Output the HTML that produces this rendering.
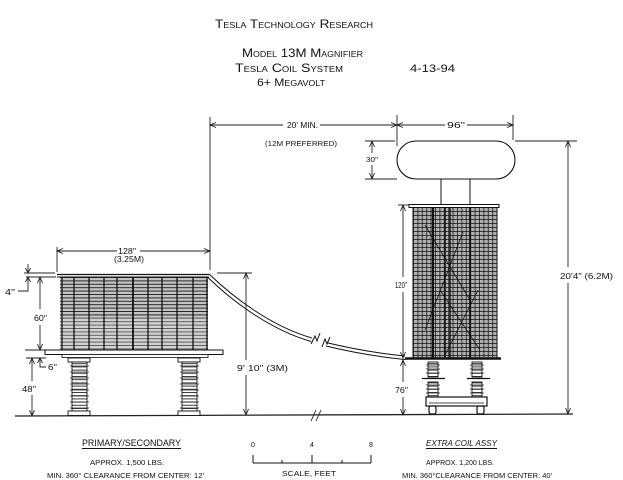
<!DOCTYPE html>
<html><head><meta charset="utf-8">
<style>
html,body{margin:0;padding:0;background:#fff;}
svg{display:block;}
text{font-family:"Liberation Sans",sans-serif;fill:#111;}
</style></head>
<body>
<svg width="623" height="480" viewBox="0 0 623 480" xmlns="http://www.w3.org/2000/svg">
<defs>
<pattern id="hl" x="0" y="277" width="6" height="3.4" patternUnits="userSpaceOnUse">
<rect width="6" height="3.4" fill="#c4c4c4"/>
<line x1="0" y1="0.5" x2="6" y2="0.5" stroke="#1a1a1a" stroke-width="0.9"/>
</pattern>
<pattern id="grid" x="413" y="207" width="4.4" height="4" patternUnits="userSpaceOnUse">
<rect width="4.4" height="4" fill="#b0b0b0"/>
<line x1="0" y1="0.5" x2="4.4" y2="0.5" stroke="#1a1a1a" stroke-width="0.8"/>
<line x1="0.5" y1="0" x2="0.5" y2="4" stroke="#1a1a1a" stroke-width="0.8"/>
</pattern>
<pattern id="leg" x="0" y="360" width="4" height="3.2" patternUnits="userSpaceOnUse">
<rect width="4" height="3.2" fill="#fff"/>
<line x1="0" y1="0.5" x2="4" y2="0.5" stroke="#222" stroke-width="0.9"/>
</pattern>
</defs>

<!-- TITLE -->
<g style="font-variant:small-caps">
<text x="215" y="28" font-size="12" textLength="158" lengthAdjust="spacingAndGlyphs">Tesla Technology Research</text>
<text x="242" y="57" font-size="12" textLength="121" lengthAdjust="spacingAndGlyphs">Model 13M Magnifier</text>
<text x="235" y="72" font-size="12" textLength="108" lengthAdjust="spacingAndGlyphs">Tesla Coil System</text>
<text x="410" y="72" font-size="11" textLength="45" lengthAdjust="spacingAndGlyphs">4-13-94</text>
<text x="257" y="86" font-size="11" textLength="68" lengthAdjust="spacingAndGlyphs">6+ Megavolt</text>
</g>

<g stroke="#222" stroke-width="0.9" fill="none">
<!-- ground line -->
<line x1="15" y1="416" x2="573" y2="414" stroke-width="1.3"/>
<!-- ground break -->
<path d="M311,421 L316,410 M316,421 L321,410" stroke-width="0.9"/>

<!-- 20' MIN dim -->
<line x1="210" y1="117" x2="210" y2="270"/>
<line x1="210" y1="125" x2="283" y2="125"/>
<line x1="320" y1="125" x2="397" y2="125"/>
<path d="M216,122.5 L210,125 L216,127.5"/>
<path d="M391,122.5 L397,125 L391,127.5"/>
<!-- 96" dim -->
<line x1="397" y1="115" x2="397" y2="146"/>
<line x1="513" y1="115" x2="513" y2="140"/>
<line x1="397" y1="125" x2="445" y2="125"/>
<line x1="467" y1="125" x2="513" y2="125"/>
<path d="M403,122.5 L397,125 L403,127.5"/>
<path d="M507,122.5 L513,125 L507,127.5"/>

<!-- 30" dim -->
<line x1="365" y1="141" x2="395" y2="141"/>
<line x1="365" y1="179" x2="397" y2="179"/>
<line x1="372" y1="141" x2="372" y2="153"/>
<line x1="372" y1="165" x2="372" y2="179"/>
<path d="M369.5,147 L372,141 L374.5,147"/>
<path d="M369.5,173 L372,179 L374.5,173"/>

<!-- 20'4" dim -->
<line x1="515" y1="141" x2="577" y2="141"/>
<line x1="568" y1="141" x2="568" y2="267"/>
<line x1="568" y1="283" x2="568" y2="414"/>
<path d="M565.5,147 L568,141 L570.5,147"/>
<path d="M565.5,408 L568,414 L570.5,408"/>

<!-- 128" dim -->
<line x1="57" y1="247" x2="57" y2="272"/>
<line x1="57" y1="251" x2="117" y2="251"/>
<line x1="140" y1="251" x2="210" y2="251"/>
<path d="M63,248.5 L57,251 L63,253.5"/>
<path d="M204,248.5 L210,251 L204,253.5"/>

<!-- 4" dim -->
<line x1="24" y1="273" x2="55" y2="273"/>
<line x1="26" y1="277" x2="56" y2="277"/>
<line x1="28" y1="264" x2="28" y2="273"/>
<path d="M25.5,268 L28,273 L30.5,268"/>
<path d="M28,277 L28,291 L18,291"/>
<path d="M25.5,282 L28,277 L30.5,282"/>
<!-- 60" dim -->
<line x1="40" y1="277" x2="40" y2="309"/>
<line x1="40" y1="325" x2="40" y2="350"/>
<path d="M37.5,283 L40,277 L42.5,283"/>
<path d="M37.5,344 L40,350 L42.5,344"/>
<line x1="25" y1="350" x2="55" y2="350"/>
<!-- 6" / 48" -->
<line x1="26" y1="358" x2="46" y2="358"/>
<path d="M40,358 L40,367 L46,367"/>
<path d="M37.5,363 L40,358 L42.5,363"/>
<line x1="32" y1="358" x2="32" y2="381"/>
<line x1="32" y1="395" x2="32" y2="416"/>
<path d="M29.5,364 L32,358 L34.5,364"/>
<path d="M29.5,410 L32,416 L34.5,410"/>

<!-- 9'10" dim -->
<line x1="217" y1="273" x2="252" y2="273"/>
<line x1="246" y1="273" x2="246" y2="360"/>
<line x1="246" y1="375" x2="246" y2="415"/>
<path d="M243.5,279 L246,273 L248.5,279"/>
<path d="M243.5,409 L246,415 L248.5,409"/>

<!-- 120" / 76" dim -->
<line x1="398" y1="205" x2="411" y2="205"/>
<line x1="403" y1="205" x2="403" y2="277"/>
<line x1="403" y1="292" x2="403" y2="358"/>
<path d="M400.5,211 L403,205 L405.5,211"/>
<path d="M400.5,352 L403,358 L405.5,352"/>
<line x1="403" y1="360" x2="403" y2="382"/>
<line x1="403" y1="397" x2="403" y2="415"/>
<path d="M400.5,366 L403,360 L405.5,366"/>
<path d="M400.5,409 L403,415 L405.5,409"/>
</g>

<!-- PRIMARY COIL -->
<rect x="60" y="277" width="148" height="73" fill="url(#hl)"/>
<rect x="60" y="318" width="148" height="32" fill="#fff" opacity="0.25"/>
<g stroke="#111" fill="none">
<line x1="57" y1="274.5" x2="209" y2="274.5" stroke-width="1.2"/>
<line x1="57" y1="277" x2="209" y2="277" stroke-width="1"/>
<g stroke-width="1.3">
<line x1="62" y1="277" x2="62" y2="350"/>
<line x1="74" y1="277" x2="74" y2="350"/>
<line x1="89" y1="277" x2="89" y2="350"/>
<line x1="104" y1="277" x2="104" y2="350"/>
<line x1="117" y1="277" x2="117" y2="350"/>
<line x1="133" y1="277" x2="133" y2="350" stroke-width="1.8"/>
<line x1="148" y1="277" x2="148" y2="350"/>
<line x1="162" y1="277" x2="162" y2="350"/>
<line x1="177" y1="277" x2="177" y2="350"/>
<line x1="193" y1="277" x2="193" y2="350"/>
<line x1="207" y1="277" x2="207" y2="350"/>
</g>
<!-- base plate -->
<rect x="45" y="350" width="178" height="4.5" fill="#fff" stroke-width="1"/>
<rect x="62" y="354.5" width="146" height="3" fill="#fff" stroke-width="0.8"/>
</g>
<!-- legs -->
<g stroke="#111" stroke-width="0.9">
<rect x="68" y="358" width="22" height="4" fill="#fff"/>
<rect x="72" y="362" width="15" height="49" fill="url(#leg)"/>
<line x1="70" y1="362" x2="70" y2="411" stroke="none"/>
<rect x="68" y="411" width="22" height="4.5" fill="#fff"/>
<rect x="178" y="358" width="22" height="4" fill="#fff"/>
<rect x="182" y="362" width="15" height="49" fill="url(#leg)"/>
<rect x="178" y="411" width="22" height="4.5" fill="#fff"/>
</g>
<g stroke="#222" stroke-width="0.8">
<path d="M70,366h19M70,372h19M70,378h19M70,384h19M70,390h19M70,396h19M70,402h19M70,408h19"/>
<path d="M180,366h19M180,372h19M180,378h19M180,384h19M180,390h19M180,396h19M180,402h19M180,408h19"/>
</g>

<!-- LEAD -->
<g stroke="#111" fill="none" stroke-width="1">
<path d="M209,274 C232,296 270,326 312,338"/>
<path d="M208,277.5 C230,299 268,329 311,341.5"/>
<path d="M311,344 L315,336 L317,341 L320,333"/>
<path d="M322,347 L325,339 L327,344 L330,337"/>
<path d="M326,342.5 Q365,352 405,356"/>
<path d="M326,346 Q365,355.5 405,359.5"/>
</g>

<!-- TOP LOAD -->
<rect x="397" y="141" width="118" height="38" rx="19" ry="19" fill="#fff" stroke="#111" stroke-width="1.1"/>
<line x1="441" y1="179" x2="441" y2="206" stroke="#111" stroke-width="1"/>
<line x1="470" y1="179" x2="470" y2="206" stroke="#111" stroke-width="1"/>

<!-- EXTRA COIL -->
<rect x="413" y="207" width="84" height="151" fill="url(#grid)"/>
<g stroke="#111" fill="none">
<rect x="409" y="204.5" width="90" height="3" stroke-width="1" fill="#fff"/>
<line x1="433" y1="207" x2="433" y2="358" stroke-width="2"/>
<line x1="445" y1="207" x2="445" y2="358" stroke-width="1.6"/>
<line x1="450" y1="207" x2="450" y2="358" stroke-width="1.4"/>
<line x1="470" y1="207" x2="470" y2="358" stroke-width="1.8"/>
<line x1="413" y1="207" x2="413" y2="358" stroke-width="1"/>
<line x1="497" y1="207" x2="497" y2="358" stroke-width="1"/>
<path d="M425,225 L470,300 M463,232 L425,330 M440,290 L480,350 M478,290 L445,355" stroke-width="0.8"/>
<line x1="405" y1="358.5" x2="501" y2="358.5" stroke-width="2.6"/>
</g>

<!-- extra coil insulators & cart -->
<g stroke="#111" stroke-width="0.9" fill="#fff">
<rect x="428" y="362" width="10" height="15" fill="url(#leg)"/>
<rect x="472" y="362" width="10" height="15" fill="url(#leg)"/>
<line x1="422" y1="378.5" x2="445" y2="378.5" stroke-width="1.3"/>
<line x1="467" y1="378.5" x2="490" y2="378.5" stroke-width="1.3"/>
<rect x="428" y="382" width="10" height="15" fill="url(#leg)"/>
<rect x="472" y="382" width="10" height="15" fill="url(#leg)"/>
<rect x="426" y="397" width="61" height="9" stroke-width="1.2"/>
<line x1="429" y1="403" x2="484" y2="403" stroke-width="0.7"/>
<rect x="429" y="406" width="7" height="8" rx="2" stroke-width="1.2"/>
<rect x="477" y="406" width="7" height="8" rx="2" stroke-width="1.2"/>
</g>
<g stroke="#222" stroke-width="0.8">
<path d="M426,365h14M426,369h14M426,373h14M470,365h14M470,369h14M470,373h14"/>
<path d="M426,385h14M426,389h14M426,393h14M470,385h14M470,389h14M470,393h14"/>
</g>

<!-- DIMENSION LABELS -->
<g font-size="8">
<text x="287" y="128" textLength="31" lengthAdjust="spacingAndGlyphs">20' MIN.</text>
<text x="265" y="146" font-size="7.5" textLength="72" lengthAdjust="spacingAndGlyphs">(12M PREFERRED)</text>
<text x="447" y="128" textLength="18" lengthAdjust="spacingAndGlyphs">96"</text>
<text x="366" y="162" font-size="7" textLength="12" lengthAdjust="spacingAndGlyphs">30"</text>
<text x="560" y="279" textLength="53" lengthAdjust="spacingAndGlyphs">20'4" (6.2M)</text>
<text x="118" y="254" textLength="18" lengthAdjust="spacingAndGlyphs">128"</text>
<text x="114" y="262" textLength="30" lengthAdjust="spacingAndGlyphs">(3.25M)</text>
<text x="5" y="295" textLength="10" lengthAdjust="spacingAndGlyphs">4"</text>
<text x="34" y="321" textLength="13" lengthAdjust="spacingAndGlyphs">60"</text>
<text x="48" y="370" textLength="9" lengthAdjust="spacingAndGlyphs">6"</text>
<text x="22" y="392" textLength="14" lengthAdjust="spacingAndGlyphs">48"</text>
<text x="237" y="371" textLength="51" lengthAdjust="spacingAndGlyphs">9' 10" (3M)</text>
<text x="395" y="288" textLength="12" lengthAdjust="spacingAndGlyphs">120"</text>
<text x="395" y="393" textLength="13" lengthAdjust="spacingAndGlyphs">76"</text>
</g>

<!-- LEGEND -->
<g font-size="8">
<text x="82" y="446" font-size="9" textLength="99" lengthAdjust="spacingAndGlyphs">PRIMARY/SECONDARY</text>
<line x1="82" y1="448.5" x2="181" y2="448.5" stroke="#111" stroke-width="0.9"/>
<text x="90" y="465" font-size="7" textLength="74" lengthAdjust="spacingAndGlyphs">APPROX. 1,500 LBS.</text>
<text x="47" y="478" font-size="7" textLength="157" lengthAdjust="spacingAndGlyphs">MIN. 360° CLEARANCE FROM CENTER: 12'</text>

<text x="251" y="447" font-size="7">0</text>
<text x="310" y="447" font-size="7">4</text>
<text x="369" y="447" font-size="7">8</text>
<g stroke="#111" stroke-width="1">
<line x1="253" y1="463" x2="371" y2="463"/>
<line x1="253" y1="455" x2="253" y2="463"/>
<line x1="282" y1="460" x2="282" y2="463"/>
<line x1="312" y1="455" x2="312" y2="463"/>
<line x1="342" y1="460" x2="342" y2="463"/>
<line x1="371" y1="455" x2="371" y2="463"/>
</g>
<text x="282" y="476" font-size="7" textLength="54" lengthAdjust="spacingAndGlyphs">SCALE, FEET</text>

<text x="426" y="446" font-size="8.5" font-style="italic" textLength="71" lengthAdjust="spacingAndGlyphs">EXTRA COIL ASSY</text>
<line x1="426" y1="448.5" x2="497" y2="448.5" stroke="#111" stroke-width="0.9"/>
<text x="426" y="465" font-size="7" textLength="68" lengthAdjust="spacingAndGlyphs">APPROX. 1,200 LBS.</text>
<text x="402" y="478" font-size="7" textLength="150" lengthAdjust="spacingAndGlyphs">MIN. 360°CLEARANCE FROM CENTER: 40'</text>
</g>
</svg>
</body></html>
